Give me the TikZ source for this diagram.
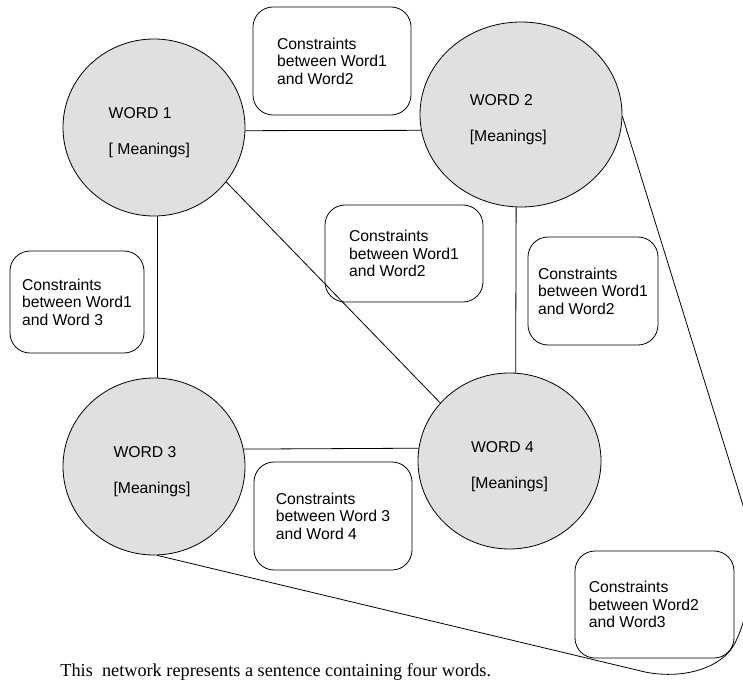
\documentclass[tikz,border=0pt]{standalone}
\usepackage{fontspec}
\setmainfont{Liberation Sans}
\newfontfamily\sentfont{Liberation Serif}
\usetikzlibrary{shapes.geometric}
\definecolor{wordgray}{RGB}{224,224,224}
\newcommand{\wordstrut}{\rule{0pt}{16.5pt}}

\begin{document}
\begin{tikzpicture}[x=0.75pt, y=-0.75pt, line width=0.6pt,
        wordnode/.style={ellipse, draw, fill=wordgray, inner sep=0pt, align=left, font=\fontsize{11.8}{13.1}\selectfont},
        constraintbox/.style={rectangle, rounded corners=15pt, draw, inner sep=0pt, align=left, font=\fontsize{11.8}{13.1}\selectfont}]

        \useasboundingbox (0,0) rectangle (743,681);

        % the four words
        \node[wordnode, minimum width=136.5pt, minimum height=132.75pt] (w1) at (154,127.5) {\wordstrut WORD 1\\[13.9pt]{[ Meanings]}\hspace*{7pt}};
        \node[wordnode, minimum width=151.5pt, minimum height=138.75pt] (w2) at (521,114.5) {\wordstrut WORD 2\\[13.9pt]{[Meanings]}\hspace*{19pt}};
        \node[wordnode, minimum width=136.5pt, minimum height=132.75pt] (w3) at (154,466.5) {\wordstrut WORD 3\\[13.9pt]{[Meanings]}\hspace*{3pt}};
        \node[wordnode, minimum width=137.25pt, minimum height=132pt] (w4) at (509.5,461) {\wordstrut WORD 4\\[13.9pt]{[Meanings]}};

        % constraint boxes
        \node[constraintbox, minimum width=118.5pt, minimum height=81pt] (c12) at (332,61) {Constraints\\between Word1\\and Word2};
        \node[constraintbox, minimum width=118.5pt, minimum height=72.75pt] (c14) at (404,253.5) {Constraints\\between Word1\\and Word2};
        \node[constraintbox, minimum width=97.5pt, minimum height=81pt] (c24) at (593,291) {Constraints\\between Word1\\and Word2};
        \node[constraintbox, minimum width=100.5pt, minimum height=76.5pt] (c13) at (77,302) {Constraints\\between Word1\\and Word 3};
        \node[constraintbox, minimum width=118.5pt, minimum height=81pt] (c34) at (333,516) {Constraints\\between Word 3\\and Word 4};
        \node[constraintbox, minimum width=119.25pt, minimum height=80.25pt] (c23) at (654.5,604.5) {Constraints\\between Word2\rule{16pt}{0pt}\\and Word3};

        % links
        \draw (w1.-2) -- (w2.189);
        \draw (w1.-88) -- (w3.88);
        \draw (w1.-37) -- (w4.140);
        \draw (w2.-93) -- (w4.86);
        \draw (w3.11) -- (w4.172);
        \draw (w2.-1) -- (746,515) .. controls (754,545) and (756,600) .. (735,643)
              .. controls (723,667) and (685,680) .. (645,672) -- (w3.-88);

        \node[anchor=base west, inner sep=0pt, font=\sentfont\fontsize{13.7}{16}\selectfont] (caption) at (60,676) {This~ network represents a sentence containing four words.};

\end{tikzpicture}
\end{document}
